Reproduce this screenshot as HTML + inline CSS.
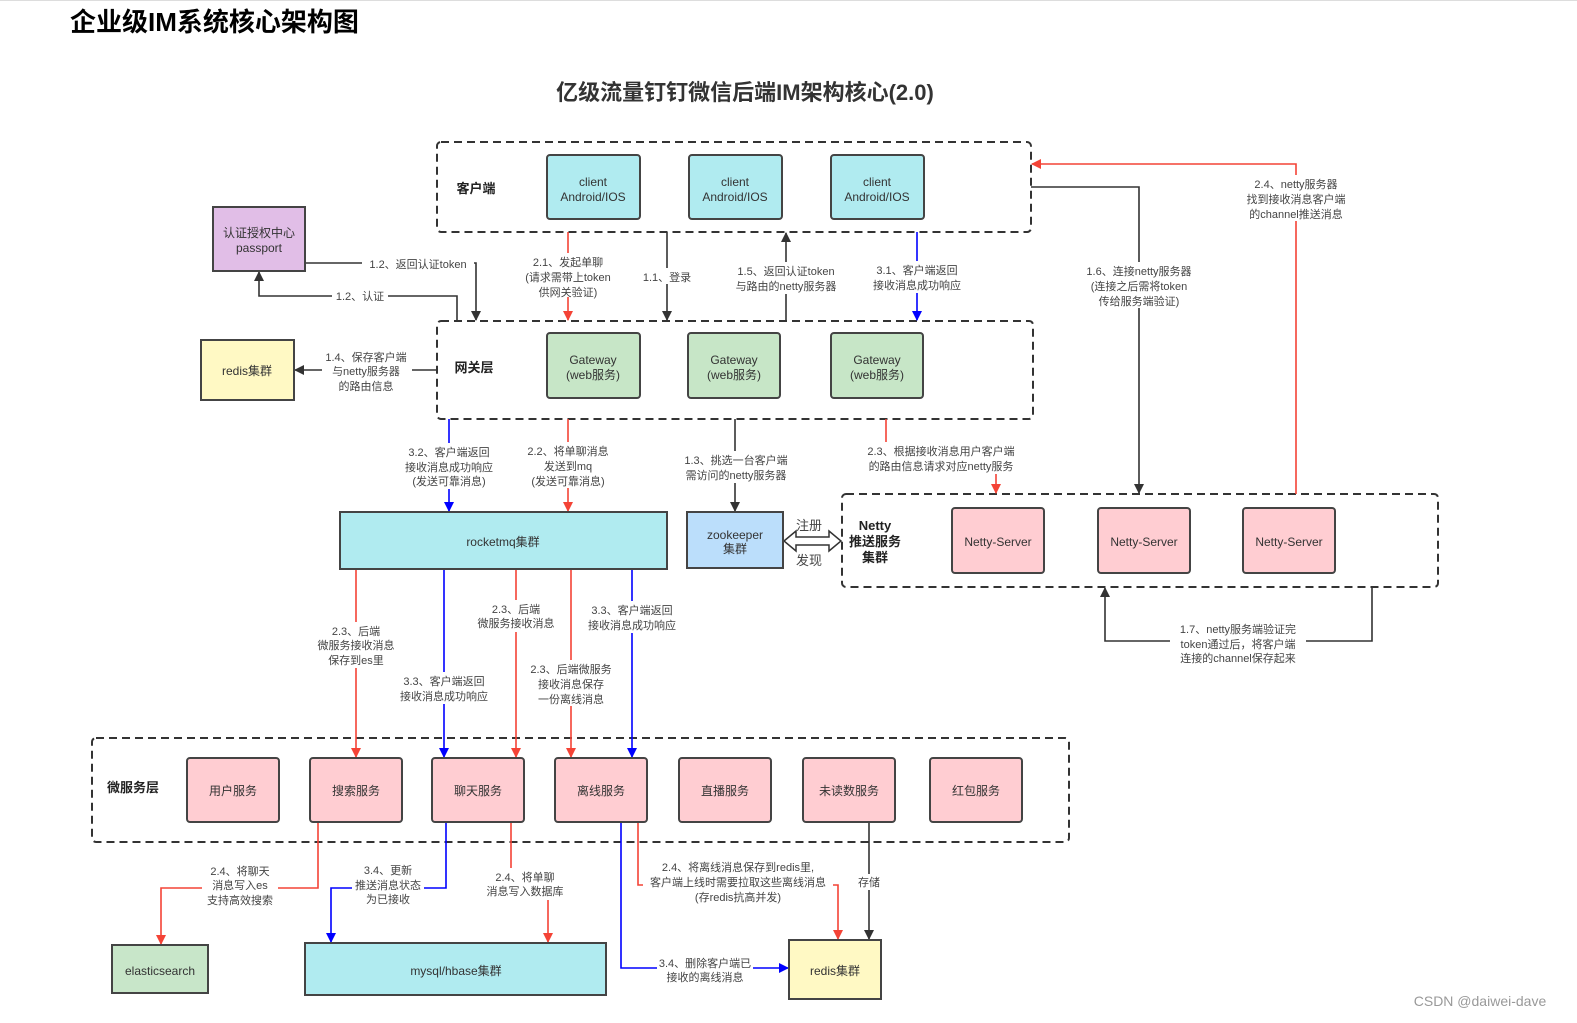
<!DOCTYPE html>
<html><head><meta charset="utf-8"><style>
html,body{margin:0;padding:0;background:#fff;}
svg{display:block;}
text{font-family:"Liberation Sans","Noto Sans CJK SC",sans-serif;}
.l{font-size:11px;fill:#444;text-anchor:middle;}
.b{font-size:12px;fill:#333;text-anchor:middle;}
.h{font-size:13px;font-weight:bold;fill:#222;text-anchor:middle;}
.bx{stroke:#444;stroke-width:2;}
.dash{fill:none;stroke:#333;stroke-width:2;stroke-dasharray:8 5;}
.k{fill:none;stroke:#333;stroke-width:1.6;}
.r{fill:none;stroke:#f44336;stroke-width:1.6;}
.u{fill:none;stroke:#0000ff;stroke-width:1.6;}
.bg{fill:#fff;}
</style></head><body>
<svg width="1577" height="1023" viewBox="0 0 1577 1023" xmlns="http://www.w3.org/2000/svg">
<defs>
<marker id="ak" markerWidth="10" markerHeight="10" refX="9" refY="5" orient="auto" markerUnits="userSpaceOnUse"><path d="M0,0 L10,5 L0,10 z" fill="#333"/></marker>
<marker id="ar" markerWidth="10" markerHeight="10" refX="9" refY="5" orient="auto" markerUnits="userSpaceOnUse"><path d="M0,0 L10,5 L0,10 z" fill="#f44336"/></marker>
<marker id="au" markerWidth="10" markerHeight="10" refX="9" refY="5" orient="auto" markerUnits="userSpaceOnUse"><path d="M0,0 L10,5 L0,10 z" fill="#0000ff"/></marker>
</defs>
<line x1="0" y1="0.5" x2="1577" y2="0.5" stroke="#ddd"/>
<text x="70" y="31" style="font-size:26px;font-weight:bold;fill:#000;">企业级IM系统核心架构图</text>
<text x="745" y="100" style="font-size:22px;font-weight:bold;fill:#333;text-anchor:middle;">亿级流量钉钉微信后端IM架构核心(2.0)</text>

<!-- group boxes -->
<rect class="dash" x="437" y="142" width="594" height="90" rx="4"/>
<rect class="dash" x="437" y="321" width="596" height="98" rx="4"/>
<rect class="dash" x="842" y="494" width="596" height="93" rx="4"/>
<rect class="dash" x="92" y="738" width="977" height="104" rx="4"/>
<text class="h" x="476" y="193">客户端</text>
<text class="h" x="474" y="372">网关层</text>
<text class="h" x="133" y="792">微服务层</text>
<text class="h" x="875" y="530">Netty</text>
<text class="h" x="875" y="546">推送服务</text>
<text class="h" x="875" y="562">集群</text>

<!-- connectors -->
<line class="r" x1="568" y1="232" x2="568" y2="320" marker-end="url(#ar)"/>
<line class="k" x1="667" y1="232" x2="667" y2="320" marker-end="url(#ak)"/>
<line class="k" x1="786" y1="321" x2="786" y2="233" marker-end="url(#ak)"/>
<line class="u" x1="917" y1="232" x2="917" y2="320" marker-end="url(#au)"/>
<polyline class="k" points="305,263 476,263 476,320" marker-end="url(#ak)"/>
<polyline class="k" points="457,321 457,296 259,296 259,272" marker-end="url(#ak)"/>
<line class="k" x1="437" y1="370" x2="295" y2="370" marker-end="url(#ak)"/>
<polyline class="k" points="1031,187 1139,187 1139,493" marker-end="url(#ak)"/>
<polyline class="r" points="1296,494 1296,164 1032,164" marker-end="url(#ar)"/>
<line class="u" x1="449" y1="419" x2="449" y2="511" marker-end="url(#au)"/>
<line class="r" x1="568" y1="419" x2="568" y2="511" marker-end="url(#ar)"/>
<line class="k" x1="735" y1="419" x2="735" y2="511" marker-end="url(#ak)"/>
<polyline class="r" points="886,419 886,458 996,458 996,493" marker-end="url(#ar)"/>
<polyline class="k" points="1372,587 1372,641 1105,641 1105,588" marker-end="url(#ak)"/>
<!-- zk double arrow -->
<path d="M784,541 L796,531 L796,537 L829,537 L829,531 L841,541 L829,551 L829,545 L796,545 L796,551 z" fill="#fff" stroke="#333" stroke-width="1.5"/>
<text x="809" y="530" style="font-size:13px;fill:#444;text-anchor:middle;">注册</text>
<text x="809" y="565" style="font-size:13px;fill:#444;text-anchor:middle;">发现</text>

<line class="r" x1="356" y1="569" x2="356" y2="757" marker-end="url(#ar)"/>
<line class="u" x1="444" y1="569" x2="444" y2="757" marker-end="url(#au)"/>
<line class="r" x1="516" y1="569" x2="516" y2="757" marker-end="url(#ar)"/>
<line class="r" x1="571" y1="569" x2="571" y2="757" marker-end="url(#ar)"/>
<line class="u" x1="632" y1="569" x2="632" y2="757" marker-end="url(#au)"/>

<polyline class="r" points="318,822 318,888 161,888 161,944" marker-end="url(#ar)"/>
<polyline class="u" points="446,822 446,888 331,888 331,942" marker-end="url(#au)"/>
<polyline class="r" points="511,822 511,887 548,887 548,942" marker-end="url(#ar)"/>
<polyline class="r" points="638,822 638,885 838,885 838,939" marker-end="url(#ar)"/>
<polyline class="u" points="621,822 621,968 788,968" marker-end="url(#au)"/>
<line class="k" x1="869" y1="822" x2="869" y2="939" marker-end="url(#ak)"/>

<!-- label backgrounds + labels -->
<g>
<rect class="bg" x="518" y="253" width="100" height="44"/>
<text class="l" x="568" y="266">2.1、发起单聊</text><text class="l" x="568" y="281">(请求需带上token</text><text class="l" x="568" y="296">供网关验证)</text>
<rect class="bg" x="638" y="268" width="58" height="16"/><text class="l" x="667" y="281">1.1、登录</text>
<rect class="bg" x="728" y="262" width="118" height="32"/><text class="l" x="786" y="275">1.5、返回认证token</text><text class="l" x="786" y="290">与路由的netty服务器</text>
<rect class="bg" x="866" y="261" width="102" height="32"/><text class="l" x="917" y="274">3.1、客户端返回</text><text class="l" x="917" y="289">接收消息成功响应</text>
<rect class="bg" x="362" y="256" width="112" height="16"/><text class="l" x="418" y="268">1.2、返回认证token</text>
<rect class="bg" x="332" y="288" width="56" height="16"/><text class="l" x="360" y="300">1.2、认证</text>
<rect class="bg" x="322" y="348" width="90" height="44"/><text class="l" x="366" y="361">1.4、保存客户端</text><text class="l" x="366" y="375">与netty服务器</text><text class="l" x="366" y="390">的路由信息</text>
<rect class="bg" x="1078" y="262" width="122" height="46"/><text class="l" x="1139" y="275">1.6、连接netty服务器</text><text class="l" x="1139" y="290">(连接之后需将token</text><text class="l" x="1139" y="305">传给服务端验证)</text>
<rect class="bg" x="1240" y="175" width="112" height="46"/><text class="l" x="1296" y="188">2.4、netty服务器</text><text class="l" x="1296" y="203">找到接收消息客户端</text><text class="l" x="1296" y="218">的channel推送消息</text>
<rect class="bg" x="400" y="443" width="100" height="46"/><text class="l" x="449" y="456">3.2、客户端返回</text><text class="l" x="449" y="471">接收消息成功响应</text><text class="l" x="449" y="485">(发送可靠消息)</text>
<rect class="bg" x="520" y="442" width="98" height="46"/><text class="l" x="568" y="455">2.2、将单聊消息</text><text class="l" x="568" y="470">发送到mq</text><text class="l" x="568" y="485">(发送可靠消息)</text>
<rect class="bg" x="678" y="451" width="116" height="32"/><text class="l" x="736" y="464">1.3、挑选一台客户端</text><text class="l" x="736" y="479">需访问的netty服务器</text>
<rect class="bg" x="858" y="442" width="166" height="32"/><text class="l" x="941" y="455">2.3、根据接收消息用户客户端</text><text class="l" x="941" y="470">的路由信息请求对应netty服务</text>
<rect class="bg" x="1170" y="620" width="136" height="46"/><text class="l" x="1238" y="633">1.7、netty服务端验证完</text><text class="l" x="1238" y="648">token通过后，将客户端</text><text class="l" x="1238" y="662">连接的channel保存起来</text>
<rect class="bg" x="312" y="622" width="88" height="46"/><text class="l" x="356" y="635">2.3、后端</text><text class="l" x="356" y="649">微服务接收消息</text><text class="l" x="356" y="664">保存到es里</text>
<rect class="bg" x="394" y="672" width="102" height="32"/><text class="l" x="444" y="685">3.3、客户端返回</text><text class="l" x="444" y="700">接收消息成功响应</text>
<rect class="bg" x="472" y="600" width="88" height="32"/><text class="l" x="516" y="613">2.3、后端</text><text class="l" x="516" y="627">微服务接收消息</text>
<rect class="bg" x="526" y="660" width="90" height="46"/><text class="l" x="571" y="673">2.3、后端微服务</text><text class="l" x="571" y="688">接收消息保存</text><text class="l" x="571" y="703">一份离线消息</text>
<rect class="bg" x="582" y="601" width="100" height="32"/><text class="l" x="632" y="614">3.3、客户端返回</text><text class="l" x="632" y="629">接收消息成功响应</text>
<rect class="bg" x="202" y="862" width="76" height="46"/><text class="l" x="240" y="875">2.4、将聊天</text><text class="l" x="240" y="889">消息写入es</text><text class="l" x="240" y="904">支持高效搜索</text>
<rect class="bg" x="352" y="861" width="72" height="46"/><text class="l" x="388" y="874">3.4、更新</text><text class="l" x="388" y="889">推送消息状态</text><text class="l" x="388" y="903">为已接收</text>
<rect class="bg" x="484" y="868" width="84" height="32"/><text class="l" x="525" y="881">2.4、将单聊</text><text class="l" x="525" y="895">消息写入数据库</text>
<rect class="bg" x="643" y="858" width="190" height="46"/><text class="l" x="738" y="871">2.4、将离线消息保存到redis里,</text><text class="l" x="738" y="886">客户端上线时需要拉取这些离线消息</text><text class="l" x="738" y="901">(存redis抗高并发)</text>
<rect class="bg" x="657" y="955" width="96" height="30"/><text class="l" x="705" y="967">3.4、删除客户端已</text><text class="l" x="705" y="981">接收的离线消息</text>
<rect class="bg" x="855" y="874" width="28" height="16"/><text class="l" x="869" y="886">存储</text>
</g>

<!-- nodes -->
<g>
<rect class="bx" x="547" y="155" width="93" height="64" rx="3" fill="#b0ebf0"/><text class="b" x="593" y="186">client</text><text class="b" x="593" y="201">Android/IOS</text>
<rect class="bx" x="689" y="155" width="93" height="64" rx="3" fill="#b0ebf0"/><text class="b" x="735" y="186">client</text><text class="b" x="735" y="201">Android/IOS</text>
<rect class="bx" x="831" y="155" width="93" height="64" rx="3" fill="#b0ebf0"/><text class="b" x="877" y="186">client</text><text class="b" x="877" y="201">Android/IOS</text>
<rect class="bx" x="547" y="333" width="93" height="65" rx="3" fill="#c7e6c7"/><text class="b" x="593" y="364">Gateway</text><text class="b" x="593" y="379">(web服务)</text>
<rect class="bx" x="688" y="333" width="92" height="65" rx="3" fill="#c7e6c7"/><text class="b" x="734" y="364">Gateway</text><text class="b" x="734" y="379">(web服务)</text>
<rect class="bx" x="831" y="333" width="92" height="65" rx="3" fill="#c7e6c7"/><text class="b" x="877" y="364">Gateway</text><text class="b" x="877" y="379">(web服务)</text>
<rect class="bx" x="213" y="207" width="92" height="64" fill="#e1bee7"/><text class="b" x="259" y="237">认证授权中心</text><text class="b" x="259" y="252">passport</text>
<rect class="bx" x="201" y="340" width="93" height="60" fill="#fff9c4"/><text class="b" x="247" y="375">redis集群</text>
<rect class="bx" x="340" y="512" width="327" height="57" fill="#b0ebf0"/><text class="b" x="503" y="546">rocketmq集群</text>
<rect class="bx" x="687" y="512" width="96" height="56" fill="#bbdefb"/><text class="b" x="735" y="539">zookeeper</text><text class="b" x="735" y="553">集群</text>
<rect class="bx" x="952" y="508" width="92" height="65" rx="3" fill="#ffcdd2"/><text class="b" x="998" y="546">Netty-Server</text>
<rect class="bx" x="1098" y="508" width="92" height="65" rx="3" fill="#ffcdd2"/><text class="b" x="1144" y="546">Netty-Server</text>
<rect class="bx" x="1243" y="508" width="92" height="65" rx="3" fill="#ffcdd2"/><text class="b" x="1289" y="546">Netty-Server</text>
<rect class="bx" x="187" y="758" width="92" height="64" rx="3" fill="#ffcdd2"/><text class="b" x="233" y="795">用户服务</text>
<rect class="bx" x="310" y="758" width="92" height="64" rx="3" fill="#ffcdd2"/><text class="b" x="356" y="795">搜索服务</text>
<rect class="bx" x="432" y="758" width="92" height="64" rx="3" fill="#ffcdd2"/><text class="b" x="478" y="795">聊天服务</text>
<rect class="bx" x="555" y="758" width="92" height="64" rx="3" fill="#ffcdd2"/><text class="b" x="601" y="795">离线服务</text>
<rect class="bx" x="679" y="758" width="92" height="64" rx="3" fill="#ffcdd2"/><text class="b" x="725" y="795">直播服务</text>
<rect class="bx" x="803" y="758" width="92" height="64" rx="3" fill="#ffcdd2"/><text class="b" x="849" y="795">未读数服务</text>
<rect class="bx" x="930" y="758" width="92" height="64" rx="3" fill="#ffcdd2"/><text class="b" x="976" y="795">红包服务</text>
<rect class="bx" x="112" y="945" width="96" height="48" fill="#c8e6c9"/><text class="b" x="160" y="975">elasticsearch</text>
<rect class="bx" x="305" y="943" width="301" height="52" fill="#b0ebf0"/><text class="b" x="456" y="975">mysql/hbase集群</text>
<rect class="bx" x="789" y="940" width="92" height="59" fill="#fff9c4"/><text class="b" x="835" y="975">redis集群</text>
</g>
<text x="1480" y="1006" style="font-size:14px;fill:#999;text-anchor:middle;">CSDN @daiwei-dave</text>
</svg>
</body></html>
